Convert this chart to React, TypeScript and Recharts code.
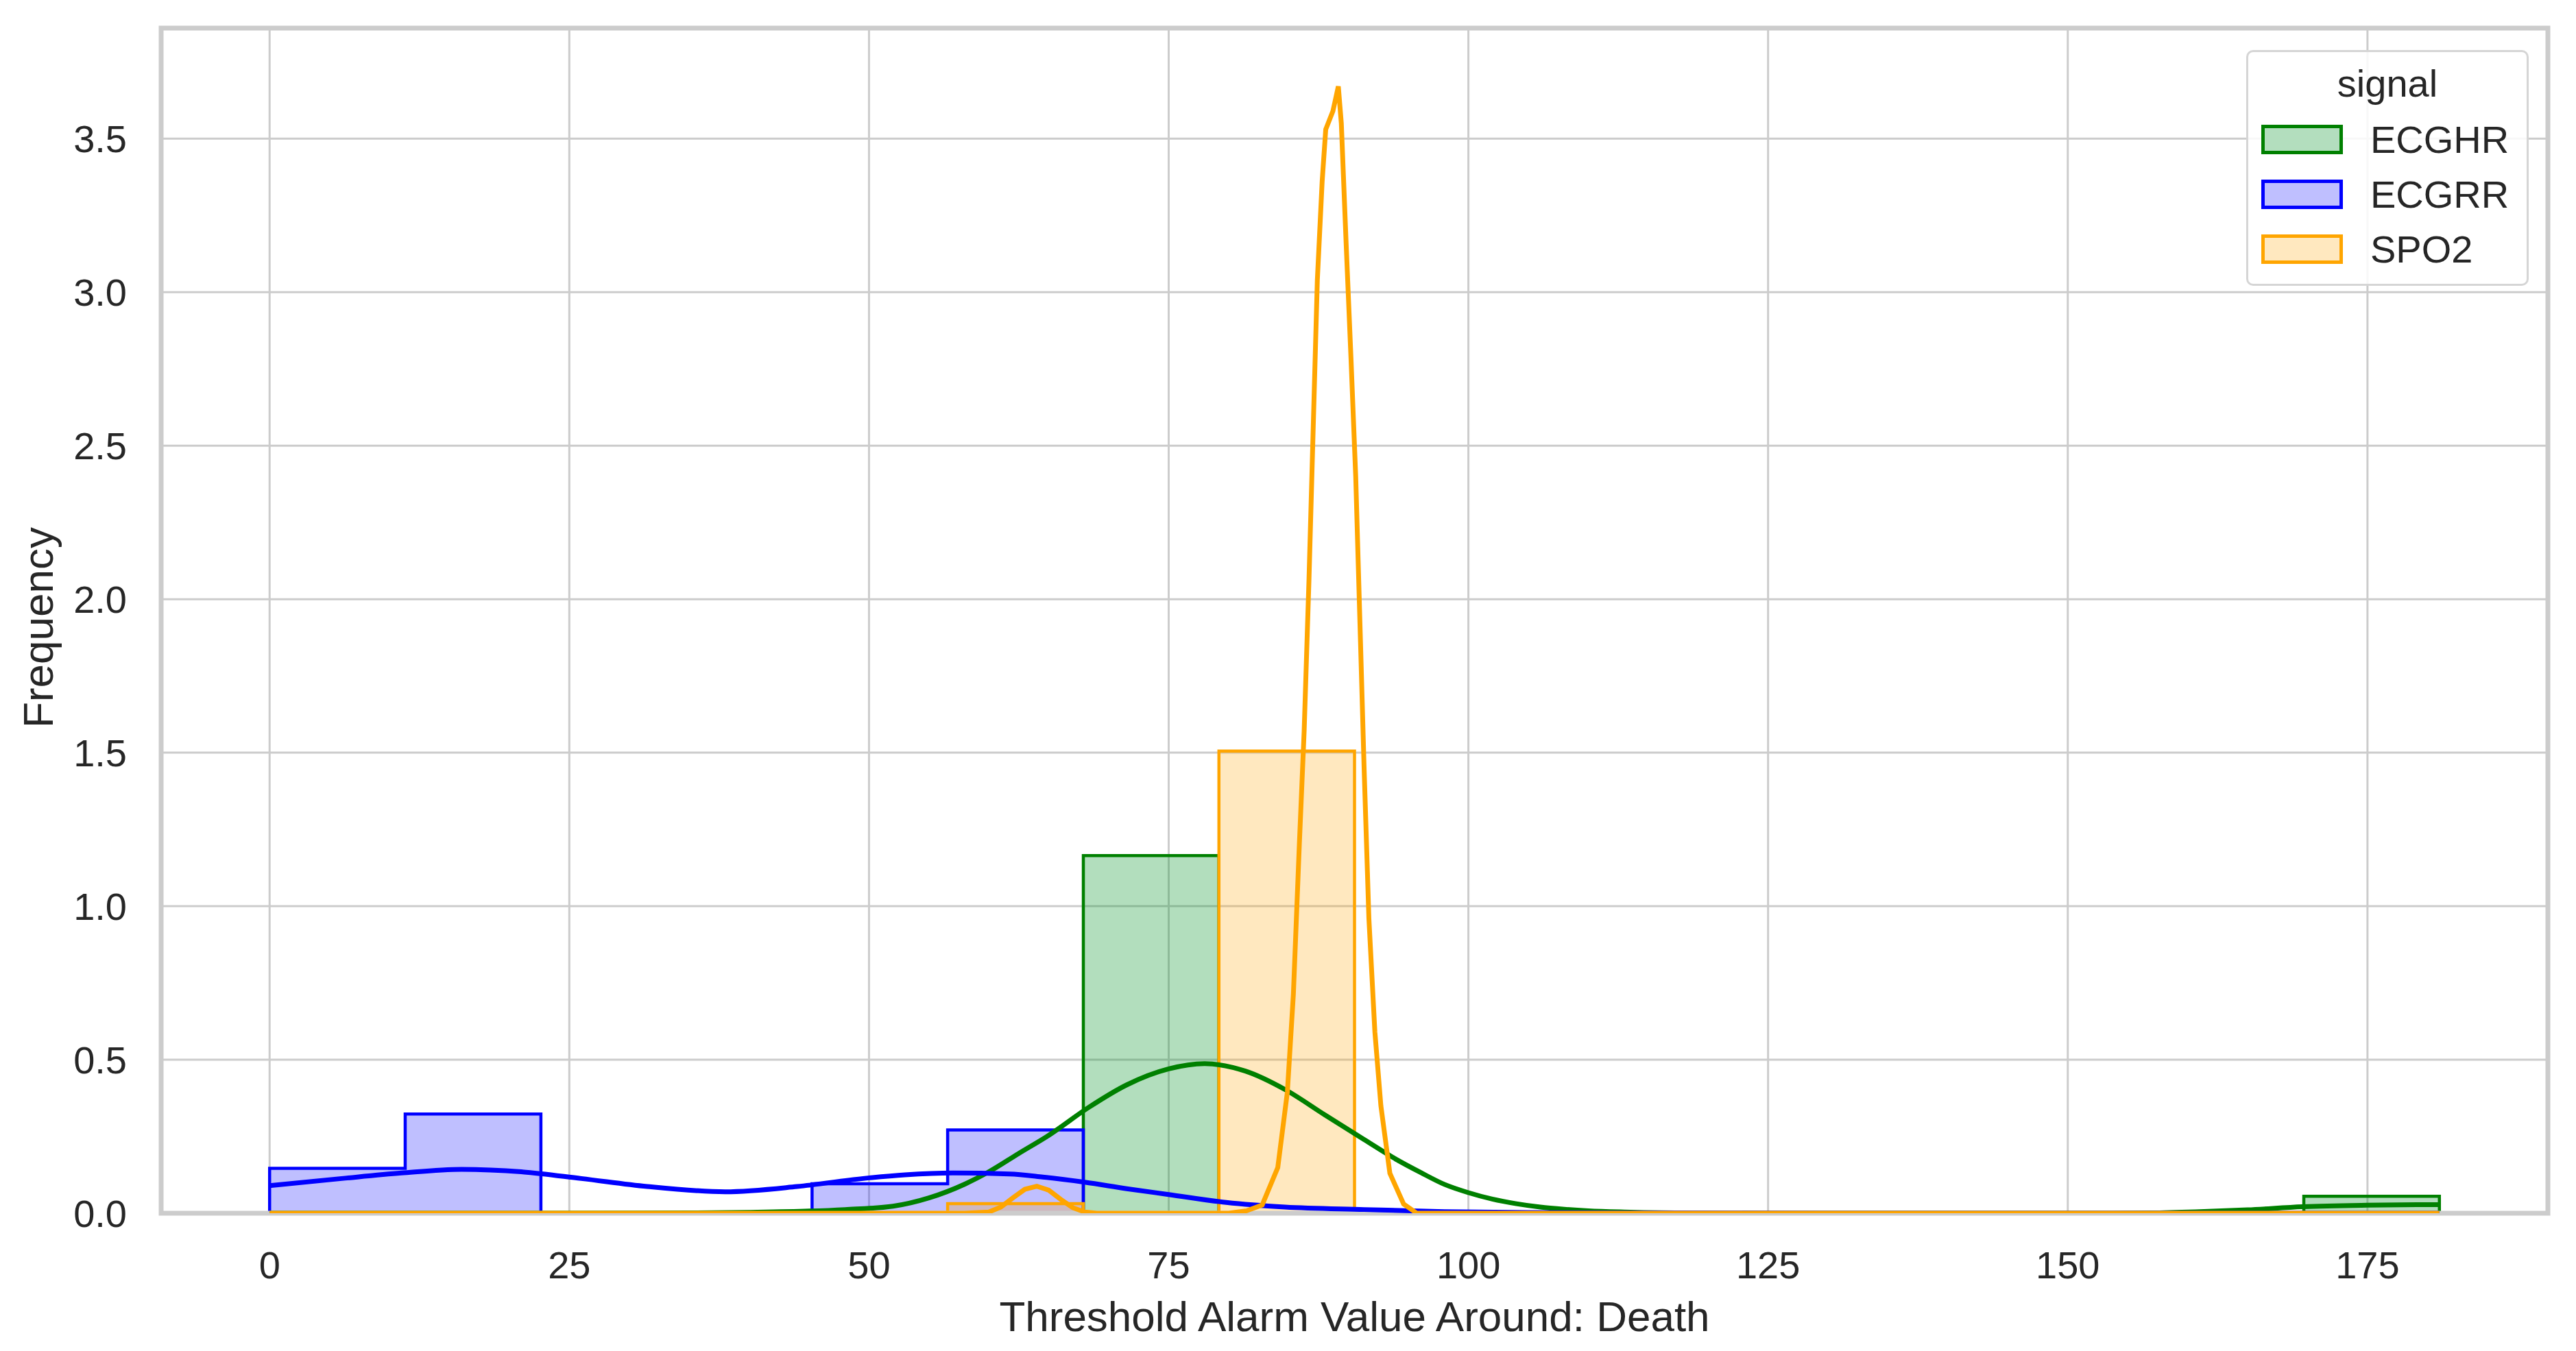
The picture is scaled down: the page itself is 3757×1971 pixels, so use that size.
import React from 'react'
import {
  ComposedChart, Area, Line, XAxis, YAxis, CartesianGrid, Legend, ReferenceArea,
} from 'recharts'

// histogram bin edges shared by all signals
const binEdges = [0, 11.31, 22.63, 33.94, 45.25, 56.56, 67.88, 79.19, 90.5, 101.81, 113.13, 124.44, 135.75, 147.06, 158.38, 169.69, 181]

const ecghrBins = [0, 0, 0, 0, 0, 0, 1.165, 0, 0, 0, 0, 0, 0, 0, 0, 0.055]
const ecgrrBins = [0.146, 0.323, 0, 0, 0.096, 0.271, 0, 0, 0, 0, 0, 0, 0, 0, 0, 0]
const spo2Bins = [0, 0, 0, 0, 0, 0.031, 0, 1.505, 0, 0, 0, 0, 0, 0, 0, 0]

// kde curves
const ecghrKdeX = [0, 20, 35, 40, 45, 48, 52, 55, 58, 60, 62.5, 65, 68.3, 71.5, 75, 78, 81.4, 84.7, 88, 91.3, 94, 96, 98, 100, 102, 104, 106, 108, 110, 113, 118, 125, 140, 152, 157, 161, 165, 169.6, 175, 181]
const ecghrKdeY = [0, 0, 0.001, 0.003, 0.007, 0.012, 0.023, 0.05, 0.095, 0.135, 0.195, 0.254, 0.344, 0.418, 0.47, 0.487, 0.463, 0.403, 0.321, 0.24, 0.175, 0.133, 0.094, 0.067, 0.046, 0.031, 0.02, 0.013, 0.008, 0.004, 0.001, 0, 0, 0, 0.001, 0.005, 0.011, 0.021, 0.026, 0.028]

const ecgrrKdeX = [0, 6, 11, 16, 21, 26, 31.5, 38, 44, 49.5, 53, 57, 61.7, 64.5, 68, 71.5, 75, 79.8, 84.7, 91.3, 98, 105, 115, 130, 181]
const ecgrrKdeY = [0.09, 0.113, 0.131, 0.143, 0.135, 0.113, 0.087, 0.07, 0.087, 0.113, 0.125, 0.131, 0.128, 0.118, 0.101, 0.08, 0.061, 0.035, 0.02, 0.012, 0.005, 0.002, 0.001, 0, 0]

const spo2KdeX = [0, 58, 60, 61, 62, 63, 64, 65, 66, 67, 68, 69, 80, 81.5, 82.8, 84.1, 84.9, 85.4, 85.9, 86.3, 86.7, 87.05, 87.4, 87.8, 88.1, 88.7, 89.15, 89.4, 89.8, 90.2, 90.6, 91, 91.3, 91.7, 92.2, 92.7, 93.45, 94.6, 95.7, 100, 181]
const spo2KdeY = [0, 0, 0.004, 0.02, 0.05, 0.078, 0.088, 0.075, 0.045, 0.018, 0.004, 0, 0, 0.008, 0.027, 0.149, 0.395, 0.713, 1.203, 1.571, 2.061, 2.551, 3.04, 3.36, 3.53, 3.59, 3.67, 3.55, 3.16, 2.79, 2.4, 1.86, 1.45, 0.96, 0.59, 0.35, 0.13, 0.03, 0, 0, 0]

const xTicks = [0, 25, 50, 75, 100, 125, 150, 175]
const yTicks = [0, 0.5, 1, 1.5, 2, 2.5, 3, 3.5]

const FONT = '"Liberation Sans", Arial, sans-serif'
const TEXT = '#262626'
const GRID = '#cccccc'

const signals = [
  { name: 'ECGHR', color: '#008000', fill: '#009126', fillOpacity: 0.3, bins: ecghrBins, kdeX: ecghrKdeX, kdeY: ecghrKdeY, curve: 'monotone' },
  { name: 'ECGRR', color: '#0000ff', fill: '#0000ff', fillOpacity: 0.25, bins: ecgrrBins, kdeX: ecgrrKdeX, kdeY: ecgrrKdeY, curve: 'monotone' },
  { name: 'SPO2', color: '#ffa500', fill: '#ffa500', fillOpacity: 0.25, bins: spo2Bins, kdeX: spo2KdeX, kdeY: spo2KdeY, curve: 'linear' },
] as const

function toSteps(bins: readonly number[]) {
  const last = binEdges.length - 1
  const pts = [{ x: binEdges[0], y: 0 }]
  bins.forEach((v, i) => pts.push({ x: binEdges[i], y: v }))
  pts.push({ x: binEdges[last], y: bins[bins.length - 1] })
  pts.push({ x: binEdges[last], y: 0 })
  return pts
}

function toCurve(xs: readonly number[], ys: readonly number[]) {
  return xs.map((x, i) => ({ x, y: ys[i] }))
}

function LegendBox() {
  return (
    <div style={{
      boxSizing: 'border-box', width: 412, height: 344, border: '3px solid #d5d5d5',
      borderRadius: 10, background: 'rgba(255,255,255,0.85)', fontFamily: FONT, color: TEXT,
    }}>
      <div style={{ textAlign: 'center', fontSize: 56, lineHeight: '64px', marginTop: 14, marginBottom: 9 }}>signal</div>
      {signals.map((s) => (
        <div key={s.name} style={{ display: 'flex', alignItems: 'center', height: 80 }}>
          <div style={{
            boxSizing: 'border-box', width: 119, height: 43, marginLeft: 19,
            border: `5px solid ${s.color}`, background: s.fill,
          }}>
            <div style={{ width: '100%', height: '100%', background: '#fff', opacity: 1 - s.fillOpacity }} />
          </div>
          <span style={{ marginLeft: 40, fontSize: 56 }}>{s.name}</span>
        </div>
      ))}
    </div>
  )
}

export default function App() {
  const tickStyle = { fontSize: 56, fill: TEXT, fontFamily: FONT }

  return (
    <div style={{ position: 'absolute', left: 0, top: 0, width: 3757, height: 1971, background: '#fff' }}>
      <ComposedChart width={3757} height={1971} margin={{ top: 41, right: 41, bottom: 11, left: 65 }}>
        <CartesianGrid stroke={GRID} strokeWidth={3} />
        <XAxis
          type="number" dataKey="x" domain={[-9.05, 190.05]} ticks={xTicks} allowDataOverflow
          height={190} axisLine={false} tickLine={false} tickSize={0} tickMargin={55} tick={tickStyle}
          label={{
            content: (p: any) => {
              const vb = p.viewBox
              const cx = vb.x + vb.width / 2
              const cy = vb.y + 150
              return (
                <text x={cx} y={cy} textAnchor="middle" dominantBaseline="central"
                  style={{ fontSize: 62, fill: TEXT, fontFamily: FONT }}>
                  Threshold Alarm Value Around: Death
                </text>
              )
            },
          }}
        />
        <YAxis
          type="number" domain={[0, 3.86]} ticks={yTicks} allowDataOverflow
          width={170} axisLine={false} tickLine={false} tickSize={0} tickMargin={50} tick={tickStyle}
          tickFormatter={(v: number) => v.toFixed(1)}
          label={{
            content: (p: any) => {
              const vb = p.viewBox
              const cx = vb.x - 10
              const cy = vb.y + vb.height / 2 + 10
              return (
                <text x={cx} y={cy} textAnchor="middle" dominantBaseline="central"
                  transform={`rotate(-90 ${cx} ${cy})`}
                  style={{ fontSize: 62, fill: TEXT, fontFamily: FONT }}>
                  Frequency
                </text>
              )
            },
          }}
        />
        {signals.map((s) => (
          <Area
            key={s.name + '-hist'} name={s.name} data={toSteps(s.bins)} dataKey="y" type="stepAfter"
            stroke={s.color} strokeWidth={4.5} fill={s.fill} fillOpacity={s.fillOpacity}
            dot={false} activeDot={false} isAnimationActive={false} legendType="none"
          />
        ))}
        {signals.map((s) => (
          <Line
            key={s.name + '-kde'} name={s.name + ' kde'} data={toCurve(s.kdeX, s.kdeY)} dataKey="y"
            type={s.curve} stroke={s.color} strokeWidth={7} dot={false} activeDot={false}
            isAnimationActive={false} legendType="none"
          />
        ))}
        <ReferenceArea x1={-9.05} x2={190.05} y1={0} y2={3.86} fill="none" stroke={GRID} strokeWidth={7} ifOverflow="visible" />
        <Legend
          layout="vertical" align="center" verticalAlign="middle"
          wrapperStyle={{ position: 'absolute', left: 3276, top: 73, width: 412, height: 344 }}
          content={() => <LegendBox />}
        />
      </ComposedChart>
    </div>
  )
}
